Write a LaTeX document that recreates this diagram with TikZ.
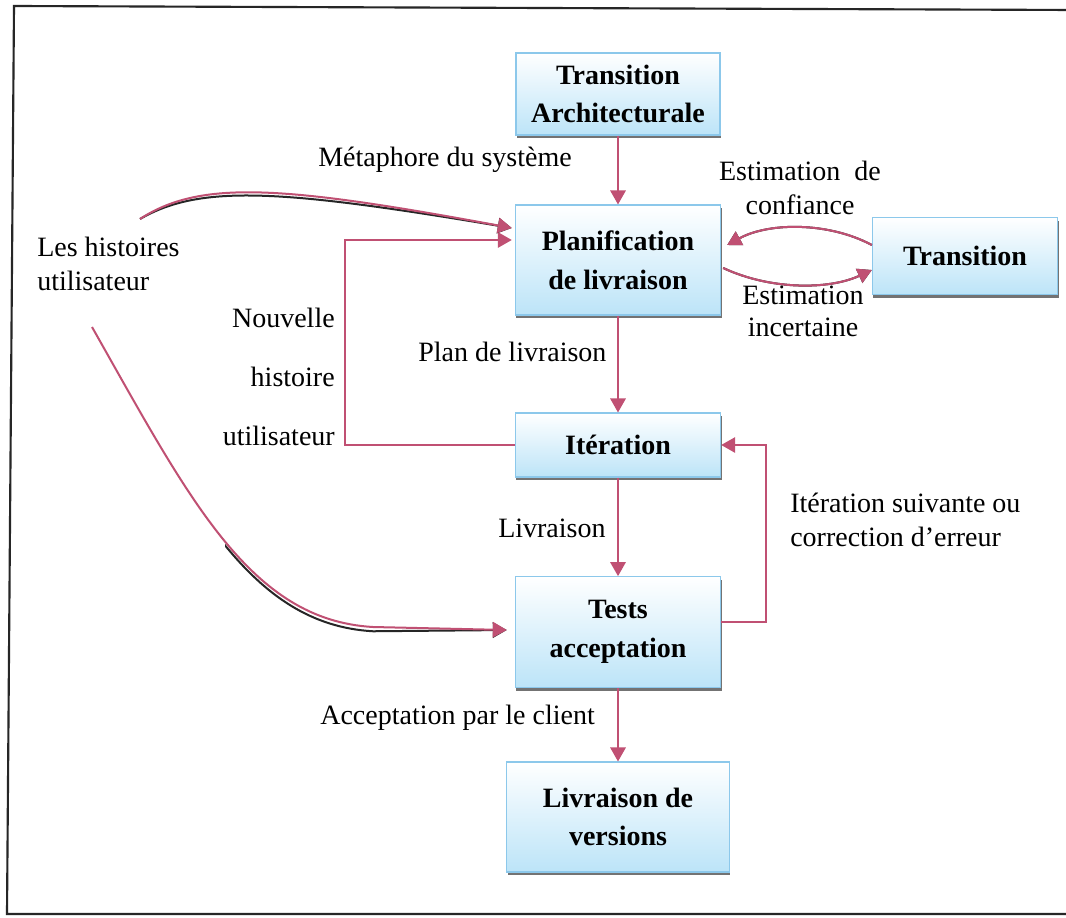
\documentclass[tikz,border=0pt]{standalone}
\usepackage{fontspec}
\setmainfont{Liberation Serif}
\usetikzlibrary{arrows.meta,shadows,calc}
\definecolor{pk}{RGB}{192,80,115}
\definecolor{bxb}{RGB}{140,200,235}
\definecolor{bxf}{RGB}{188,228,248}
\begin{document}
\begin{tikzpicture}[x=0.75pt,y=-0.75pt,
  lbl/.style={font=\fontsize{21}{26}\selectfont, inner sep=0pt},
  box/.style={draw=bxb, line width=0.8pt, top color=white, bottom color=bxf,
    align=center, font=\fontsize{21}{29}\selectfont\bfseries, inner sep=0pt,
    drop shadow={shadow xshift=0.8pt, shadow yshift=-2.4pt, fill=black!55, opacity=1}},
  arr/.style={draw=pk, line width=1.5pt, -{Triangle[length=10.5pt,width=11.5pt]}},
  dbl/.style={draw=pk, line width=1.5pt, -{Triangle[length=10.5pt,width=11.5pt]}},
  shd/.style={draw=black!85, line width=1.5pt, -{Triangle[length=10.5pt,width=11.5pt]}},
]
\useasboundingbox (0,0) rectangle (1066,917);
\fill[white] (0,0) rectangle (1066,917);
% frame
\draw[line width=1.6pt, black!85] (1075,10) -- (14,6) -- (7,914) -- (1075,914);

% boxes
\node[box, minimum width=153pt, minimum height=61.5pt] (ta) at (618,94) {Transition\\Architecturale};
\node[box, minimum width=154pt, minimum height=82.5pt] (plan) at (618,260) {Planification\\de livraison};
\node[box, minimum width=139pt, minimum height=58pt] (trans) at (965,256) {Transition};
\node[box, minimum width=154pt, minimum height=48pt] (iter) at (618,445) {Itération};
\node[box, minimum width=154pt, minimum height=83pt] (tests) at (618,632) {Tests\\acceptation};
\node[box, minimum width=167pt, minimum height=82.5pt] (livr) at (618,817) {Livraison de\\versions};

% free ends
\coordinate (s1) at (140,219);
\coordinate (s2) at (92,327);

% vertical arrows
\draw[arr] (ta) -- (plan);
\draw[arr] (plan) -- (iter);
\draw[arr] (iter) -- (tests);
\draw[arr] (tests) -- (livr);

% loops
\draw[arr] (iter.west) -| ($(plan.west)+(-170,-20)$) -- ($(plan.west)+(-3,-20)$);
\draw[arr] ($(tests.east)+(0,-10)$) -- ++(45,0) |- (iter.east);

% transition arcs
\draw[shd, yshift=-3.2pt] ($(trans.west)+(0,-11)$) .. controls +(-43,-23) and +(42,-23) .. ($(plan.east)+(6,-15)$);
\draw[dbl] ($(trans.west)+(0,-11)$) .. controls +(-43,-23) and +(42,-23) .. ($(plan.east)+(6,-15)$);
\draw[shd, yshift=2.4pt] ($(plan.east)+(2,8)$) .. controls +(47,22) and +(-43,20) .. ($(trans.west)+(0,14)$);
\draw[dbl] ($(plan.east)+(2,8)$) .. controls +(47,22) and +(-43,20) .. ($(trans.west)+(0,14)$);

% user stories arrows
\draw[shd, yshift=-3.2pt] (s1) .. controls (200,180) and (280,185) .. ($(plan.west)+(-3,-32)$);
\draw[dbl] (s1) .. controls (200,180) and (280,185) .. ($(plan.west)+(-3,-32)$);
\begin{scope}
  \clip (225,540) rectangle (530,680);
  \draw[shd, yshift=-3.2pt] (s2) .. controls (190,500) and (250,620) .. (373,627) -- ($(tests.west)+(-8,-2)$);
\end{scope}
\draw[dbl] (s2) .. controls (190,500) and (250,620) .. (373,627) -- ($(tests.west)+(-8,-2)$);

% labels
\node[lbl] (lm) at (445,160) {Métaphore du système};
\node[lbl, anchor=west] (lp) at (418,352) {Plan de livraison};
\node[lbl, anchor=west] (ll) at (498,528) {Livraison};
\node[lbl, anchor=east] (la) at (595,718) {Acceptation par le client};
\node[lbl, anchor=west, align=left] (lh) at (37,264) {Les histoires\\utilisateur};
\node[lbl, anchor=east, align=right] (ln) at (335,377) {Nouvelle\\[18pt]histoire\\[18pt]utilisateur};
\node[lbl, align=center] (lc) at (800,188) {Estimation\ \ de\\confiance};
\node[lbl, align=center] (li) at (803,311) {Estimation\\[-2pt]incertaine};
\node[lbl, anchor=west, align=left] (ls) at (790,520) {Itération suivante ou\\correction d’erreur};
\end{tikzpicture}
\end{document}
